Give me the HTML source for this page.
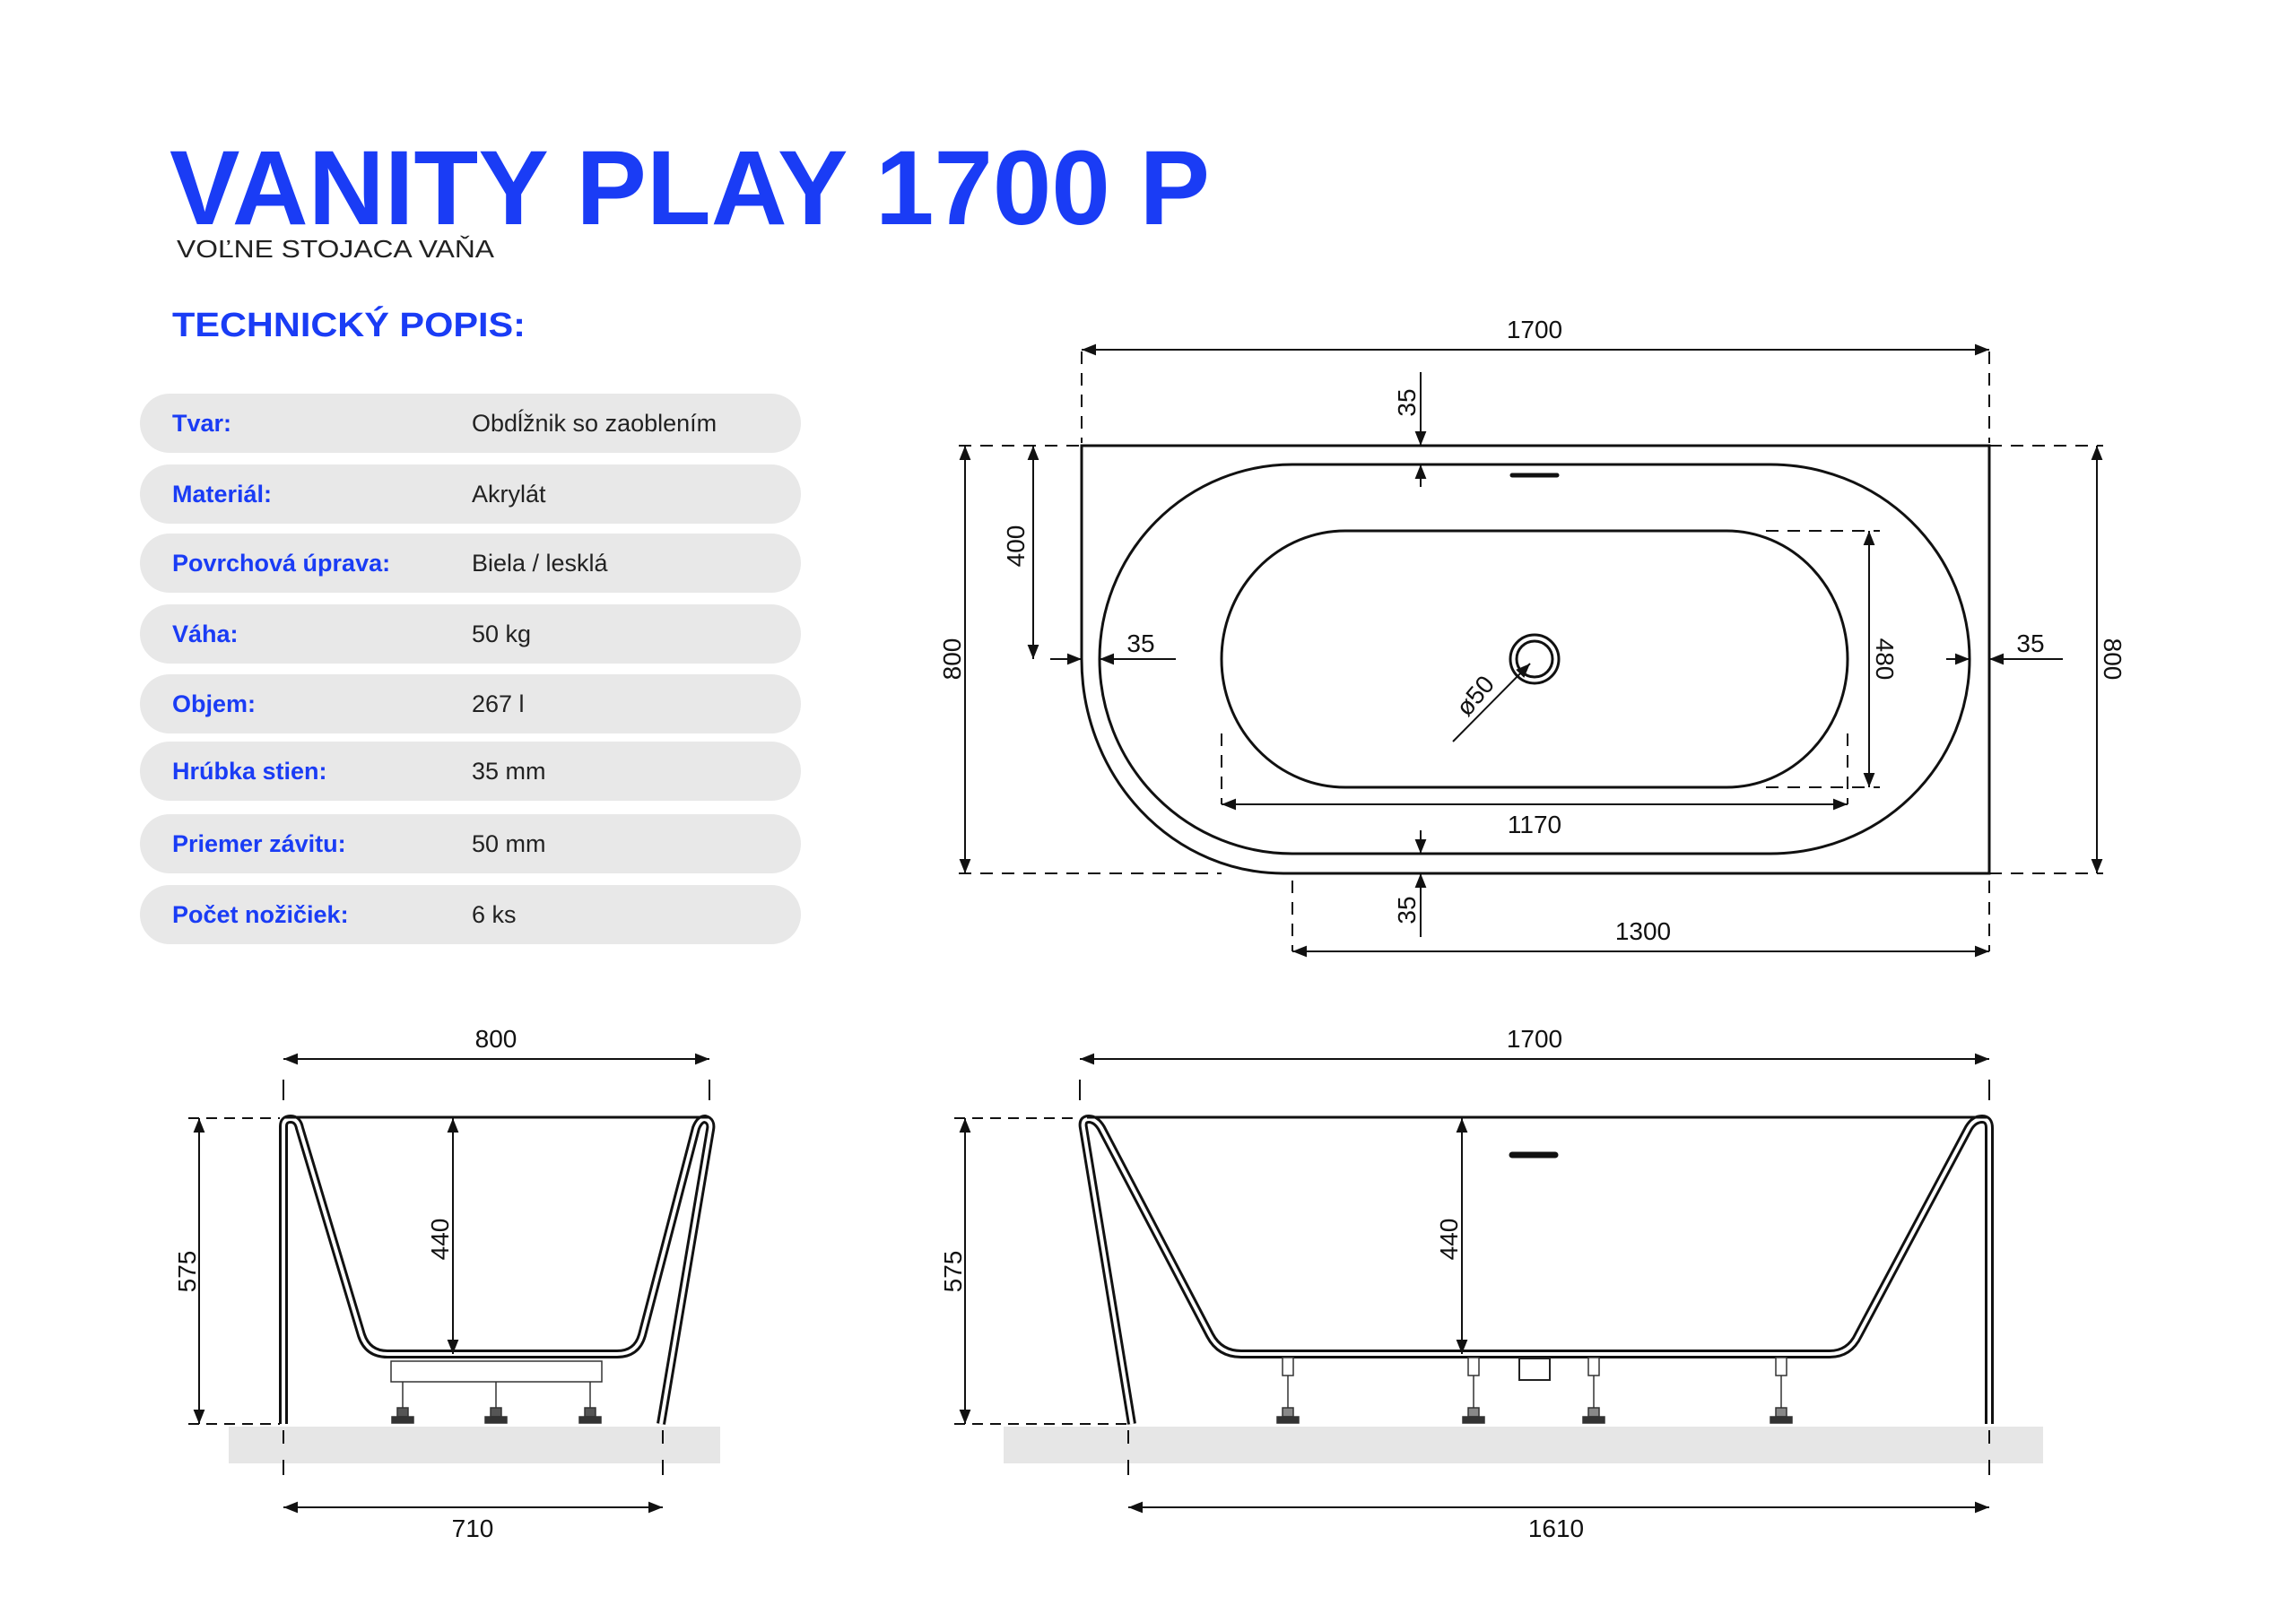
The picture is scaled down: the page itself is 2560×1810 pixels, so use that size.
<!DOCTYPE html>
<html><head><meta charset="utf-8"><style>html,body{margin:0;padding:0;background:#fff}svg{display:block}</style></head>
<body>
<svg width="2560" height="1810" viewBox="0 0 2560 1810" xmlns="http://www.w3.org/2000/svg" font-family="Liberation Sans, sans-serif">
<defs>
<marker id="b" viewBox="0 0 10 10" refX="10" refY="5" markerWidth="16" markerHeight="16" markerUnits="userSpaceOnUse" orient="auto-start-reverse"><path d="M0,1 L10,5 L0,9 z" fill="#111"/></marker>
</defs>
<!-- Header -->
<text x="189" y="250" font-size="118" font-weight="bold" fill="#1a3cf5" textLength="1160" lengthAdjust="spacingAndGlyphs">VANITY PLAY 1700 P</text>
<text x="197" y="287" font-size="28" fill="#222" textLength="354" lengthAdjust="spacingAndGlyphs">VOĽNE STOJACA VAŇA</text>
<text x="192" y="375" font-size="38" font-weight="bold" fill="#1a3cf5" textLength="394" lengthAdjust="spacingAndGlyphs">TECHNICKÝ POPIS:</text>
<!-- Table -->
<g font-size="27">
<g fill="#e8e8e8">
<rect x="156" y="439" width="737" height="66" rx="33"/>
<rect x="156" y="518" width="737" height="66" rx="33"/>
<rect x="156" y="595" width="737" height="66" rx="33"/>
<rect x="156" y="674" width="737" height="66" rx="33"/>
<rect x="156" y="752" width="737" height="66" rx="33"/>
<rect x="156" y="827" width="737" height="66" rx="33"/>
<rect x="156" y="908" width="737" height="66" rx="33"/>
<rect x="156" y="987" width="737" height="66" rx="33"/>
</g>
<g fill="#1a3cf5" font-weight="bold">
<text x="192" y="481">Tvar:</text>
<text x="192" y="560">Materiál:</text>
<text x="192" y="637">Povrchová úprava:</text>
<text x="192" y="716">Váha:</text>
<text x="192" y="794">Objem:</text>
<text x="192" y="869">Hrúbka stien:</text>
<text x="192" y="950">Priemer závitu:</text>
<text x="192" y="1029">Počet nožičiek:</text>
</g>
<g fill="#222">
<text x="526" y="481">Obdĺžnik so zaoblením</text>
<text x="526" y="560">Akrylát</text>
<text x="526" y="637">Biela / lesklá</text>
<text x="526" y="716">50 kg</text>
<text x="526" y="794">267 l</text>
<text x="526" y="869">35 mm</text>
<text x="526" y="950">50 mm</text>
<text x="526" y="1029">6 ks</text>
</g>
</g>

<!-- PLAN VIEW -->
<g fill="none" stroke="#111" stroke-width="3">
<path d="M1206,497 L2218,497 L2218,974 L1431,974 A225,239 0 0 1 1206,735 Z"/>
<path d="M1441,518 L1974,518 A222,217 0 0 1 1974,952 L1441,952 A215,217 0 0 1 1441,518 Z"/>
<path d="M1500,592 L1925,592 A135,143 0 0 1 1925,878 L1500,878 A138,143 0 0 1 1500,592 Z"/>
<circle cx="1711" cy="735" r="27"/>
<circle cx="1711" cy="735" r="20"/>
</g>
<line x1="1686" y1="530" x2="1736" y2="530" stroke="#111" stroke-width="5" stroke-linecap="round"/>
<g fill="none" stroke="#111" stroke-width="2" stroke-dasharray="14,10">
<line x1="1206" y1="392" x2="1206" y2="494"/>
<line x1="2218" y1="392" x2="2218" y2="494"/>
<line x1="1069" y1="497" x2="1206" y2="497"/>
<line x1="1069" y1="974" x2="1362" y2="974"/>
<line x1="2218" y1="497" x2="2345" y2="497"/>
<line x1="2218" y1="974" x2="2345" y2="974"/>
<line x1="1969" y1="592" x2="2096" y2="592"/>
<line x1="1969" y1="878" x2="2096" y2="878"/>
<line x1="1362" y1="818" x2="1362" y2="897"/>
<line x1="2060" y1="818" x2="2060" y2="897"/>
<line x1="1441" y1="982" x2="1441" y2="1061"/>
<line x1="2218" y1="982" x2="2218" y2="1061"/>
</g>
<g stroke="#111" stroke-width="2" fill="none">
<line x1="1206" y1="390" x2="2218" y2="390" marker-start="url(#b)" marker-end="url(#b)"/>
<line x1="1076" y1="497" x2="1076" y2="974" marker-start="url(#b)" marker-end="url(#b)"/>
<line x1="1152" y1="497" x2="1152" y2="735" marker-start="url(#b)" marker-end="url(#b)"/>
<line x1="2338" y1="497" x2="2338" y2="974" marker-start="url(#b)" marker-end="url(#b)"/>
<line x1="2084" y1="592" x2="2084" y2="878" marker-start="url(#b)" marker-end="url(#b)"/>
<line x1="1362" y1="897" x2="2060" y2="897" marker-start="url(#b)" marker-end="url(#b)"/>
<line x1="1441" y1="1061" x2="2218" y2="1061" marker-start="url(#b)" marker-end="url(#b)"/>
<line x1="1584" y1="415" x2="1584" y2="497" marker-end="url(#b)"/>
<line x1="1584" y1="543" x2="1584" y2="518" marker-end="url(#b)"/>
<line x1="1584" y1="926" x2="1584" y2="952" marker-end="url(#b)"/>
<line x1="1584" y1="1045" x2="1584" y2="974" marker-end="url(#b)"/>
<line x1="1171" y1="735" x2="1206" y2="735" marker-end="url(#b)"/>
<line x1="1311" y1="735" x2="1226" y2="735" marker-end="url(#b)"/>
<line x1="2170" y1="735" x2="2196" y2="735" marker-end="url(#b)"/>
<line x1="2300" y1="735" x2="2218" y2="735" marker-end="url(#b)"/>
<line x1="1620" y1="827" x2="1706" y2="740" marker-end="url(#b)"/>
</g>
<g font-size="28" fill="#111" text-anchor="middle">
<text x="1711" y="377">1700</text>
<text x="1711" y="929">1170</text>
<text x="1832" y="1048">1300</text>
<text x="1272" y="727">35</text>
<text x="2264" y="727">35</text>
<text transform="translate(1071,735) rotate(-90)">800</text>
<text transform="translate(1142,609) rotate(-90)">400</text>
<text transform="translate(2346,735) rotate(90)">800</text>
<text transform="translate(2092,735) rotate(90)">480</text>
<text transform="translate(1578,449) rotate(-90)">35</text>
<text transform="translate(1578,1015) rotate(-90)">35</text>
<text transform="translate(1652,782) rotate(-50)">ø50</text>
</g>

<!-- LEFT SIDE VIEW -->
<rect x="255" y="1591" width="548" height="41" fill="#e6e6e6"/>
<g fill="none" stroke-linejoin="round">
<path d="M316,1588 L316,1256 Q316,1248 324,1248 Q332,1248 334,1258 L403,1489 Q410,1510 432,1510 L688,1510 Q710,1510 716,1489 L776,1258 Q780,1248 786,1248 Q794,1250 792,1260 L737,1588" stroke="#111" stroke-width="10"/>
<path d="M316,1588 L316,1256 Q316,1248 324,1248 Q332,1248 334,1258 L403,1489 Q410,1510 432,1510 L688,1510 Q710,1510 716,1489 L776,1258 Q780,1248 786,1248 Q794,1250 792,1260 L737,1588" stroke="#fff" stroke-width="4"/>
<line x1="318" y1="1246" x2="790" y2="1246" stroke="#111" stroke-width="3"/>
</g>
<rect x="436" y="1518" width="235" height="23" fill="#fff" stroke="#333" stroke-width="1.5"/>
<g fill="#555" stroke="#333" stroke-width="1.5">
<line x1="449" y1="1541" x2="449" y2="1576"/><line x1="553" y1="1541" x2="553" y2="1576"/><line x1="658" y1="1541" x2="658" y2="1576"/>
<rect x="443" y="1570" width="12" height="10"/><rect x="547" y="1570" width="12" height="10"/><rect x="652" y="1570" width="12" height="10"/>
<rect x="437" y="1580" width="24" height="7" fill="#333"/><rect x="541" y="1580" width="24" height="7" fill="#333"/><rect x="646" y="1580" width="24" height="7" fill="#333"/>
</g>
<g stroke="#111" stroke-width="2" fill="none">
<line x1="316" y1="1181" x2="791" y2="1181" marker-start="url(#b)" marker-end="url(#b)"/>
<line x1="316" y1="1681" x2="739" y2="1681" marker-start="url(#b)" marker-end="url(#b)"/>
<line x1="222" y1="1247" x2="222" y2="1588" marker-start="url(#b)" marker-end="url(#b)"/>
<line x1="505" y1="1247" x2="505" y2="1510" marker-start="url(#b)" marker-end="url(#b)"/>
<line x1="316" y1="1204" x2="316" y2="1227"/><line x1="791" y1="1204" x2="791" y2="1227"/>
<line x1="316" y1="1595" x2="316" y2="1610"/><line x1="739" y1="1595" x2="739" y2="1610"/>
<line x1="316" y1="1628" x2="316" y2="1645"/><line x1="739" y1="1628" x2="739" y2="1645"/>
<line x1="210" y1="1247" x2="312" y2="1247" stroke-dasharray="12,8"/>
<line x1="210" y1="1588" x2="312" y2="1588" stroke-dasharray="12,8"/>
</g>
<g font-size="28" fill="#111" text-anchor="middle">
<text x="553" y="1168">800</text>
<text x="527" y="1714">710</text>
<text transform="translate(218,1418) rotate(-90)">575</text>
<text transform="translate(500,1382) rotate(-90)">440</text>
</g>

<!-- FRONT SIDE VIEW -->
<rect x="1119" y="1591" width="1159" height="41" fill="#e6e6e6"/>
<g fill="none" stroke-linejoin="round">
<path d="M1262,1588 L1208,1258 Q1206,1248 1214,1248 Q1222,1248 1228,1258 L1349,1489 Q1360,1510 1384,1510 L2040,1510 Q2062,1510 2072,1489 L2195,1258 Q2201,1248 2210,1248 Q2218,1248 2218,1258 L2218,1588" stroke="#111" stroke-width="10"/>
<path d="M1262,1588 L1208,1258 Q1206,1248 1214,1248 Q1222,1248 1228,1258 L1349,1489 Q1360,1510 1384,1510 L2040,1510 Q2062,1510 2072,1489 L2195,1258 Q2201,1248 2210,1248 Q2218,1248 2218,1258 L2218,1588" stroke="#fff" stroke-width="4"/>
<line x1="1212" y1="1246" x2="2216" y2="1246" stroke="#111" stroke-width="3"/>
</g>
<line x1="1686" y1="1288" x2="1734" y2="1288" stroke="#111" stroke-width="7" stroke-linecap="round"/>
<rect x="1694" y="1515" width="34" height="24" fill="#fff" stroke="#222" stroke-width="2"/>
<g fill="#fff" stroke="#333" stroke-width="1.5">
<rect x="1430" y="1514" width="12" height="20"/><rect x="1637" y="1514" width="12" height="20"/><rect x="1771" y="1514" width="12" height="20"/><rect x="1980" y="1514" width="12" height="20"/>
<line x1="1436" y1="1534" x2="1436" y2="1576"/><line x1="1643" y1="1534" x2="1643" y2="1576"/><line x1="1777" y1="1534" x2="1777" y2="1576"/><line x1="1986" y1="1534" x2="1986" y2="1576"/>
<rect x="1430" y="1570" width="12" height="10" fill="#888"/><rect x="1637" y="1570" width="12" height="10" fill="#888"/><rect x="1771" y="1570" width="12" height="10" fill="#888"/><rect x="1980" y="1570" width="12" height="10" fill="#888"/>
<rect x="1424" y="1580" width="24" height="7" fill="#333"/><rect x="1631" y="1580" width="24" height="7" fill="#333"/><rect x="1765" y="1580" width="24" height="7" fill="#333"/><rect x="1974" y="1580" width="24" height="7" fill="#333"/>
</g>
<g stroke="#111" stroke-width="2" fill="none">
<line x1="1204" y1="1181" x2="2218" y2="1181" marker-start="url(#b)" marker-end="url(#b)"/>
<line x1="1258" y1="1681" x2="2218" y2="1681" marker-start="url(#b)" marker-end="url(#b)"/>
<line x1="1076" y1="1247" x2="1076" y2="1588" marker-start="url(#b)" marker-end="url(#b)"/>
<line x1="1630" y1="1247" x2="1630" y2="1510" marker-start="url(#b)" marker-end="url(#b)"/>
<line x1="1204" y1="1204" x2="1204" y2="1227"/><line x1="2218" y1="1204" x2="2218" y2="1227"/>
<line x1="1258" y1="1595" x2="1258" y2="1610"/><line x1="2218" y1="1595" x2="2218" y2="1610"/>
<line x1="1258" y1="1628" x2="1258" y2="1645"/><line x1="2218" y1="1628" x2="2218" y2="1645"/>
<line x1="1064" y1="1247" x2="1204" y2="1247" stroke-dasharray="12,8"/>
<line x1="1064" y1="1588" x2="1256" y2="1588" stroke-dasharray="12,8"/>
</g>
<g font-size="28" fill="#111" text-anchor="middle">
<text x="1711" y="1168">1700</text>
<text x="1735" y="1714">1610</text>
<text transform="translate(1072,1418) rotate(-90)">575</text>
<text transform="translate(1625,1382) rotate(-90)">440</text>
</g>
</svg>
</body></html>
